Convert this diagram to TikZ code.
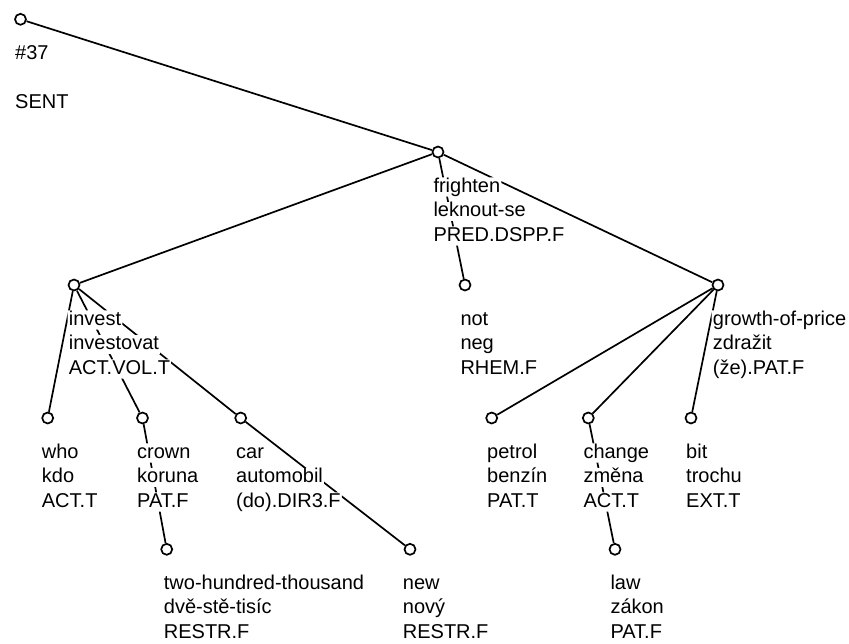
\documentclass[tikz,border=0pt]{standalone}
\usepackage{fontspec}
\setmainfont{Liberation Sans}
\begin{document}
\begin{tikzpicture}[x=1pt,y=-1pt,
  tnode/.style={circle,draw,fill=white,line width=1.7pt,minimum size=11pt,inner sep=0pt},
  link/.style={line width=1.7pt},
  lbl/.style={anchor=base west,inner sep=0pt,inner xsep=1pt,
    text height=14.5pt,text depth=4.5pt,font=\fontsize{20}{24.5}\selectfont}]
\useasboundingbox (0,0) rectangle (849,643);

% tree nodes
\node[tnode] (root)   at (20.5,19.3) {};
\node[tnode] (fri)    at (438,152) {};
\node[tnode] (inv)    at (74,285) {};
\node[tnode] (neg)    at (465,285) {};
\node[tnode] (gro)    at (718,285) {};
\node[tnode] (who)    at (47.7,418) {};
\node[tnode] (crown)  at (142.5,418) {};
\node[tnode] (car)    at (240.7,418) {};
\node[tnode] (petrol) at (491.7,418) {};
\node[tnode] (change) at (588.3,418) {};
\node[tnode] (bit)    at (691,418) {};
\node[tnode] (two)    at (166.7,549.3) {};
\node[tnode] (new)    at (410,549.3) {};
\node[tnode] (law)    at (615,549.3) {};

% three-line labels, one node per text line
\newcommand\treelabel[6]{%
  \node[lbl] (#1-a) at (#2,#3) {#4};
  \node[lbl] (#1-b) at (#2,#3+24.5) {#5};
  \node[lbl] (#1-c) at (#2,#3+49) {#6};}

\node[lbl] (root-a) at (14,59.3) {\#37};
\node[lbl] (root-c) at (14,108.3) {SENT};
\treelabel{fri}{432.3}{192}{frighten}{leknout-se}{PRED.DSPP.F}
\treelabel{inv}{67.7}{325}{invest}{investovat}{ACT.VOL.T}
\treelabel{neg}{459.3}{325}{not}{neg}{RHEM.F}
\treelabel{gro}{711.7}{325}{growth-of-price}{zdražit}{(že).PAT.F}
\treelabel{who}{40.7}{458}{who}{kdo}{ACT.T}
\treelabel{crown}{136}{458}{crown}{koruna}{PAT.F}
\treelabel{car}{235}{458}{car}{automobil}{(do).DIR3.F}
\treelabel{petrol}{486}{458}{petrol}{benzín}{PAT.T}
\treelabel{change}{582.3}{458}{change}{změna}{ACT.T}
\treelabel{bit}{685}{458}{bit}{trochu}{EXT.T}
\treelabel{two}{162.7}{589.3}{two-hundred-thousand}{dvě-stě-tisíc}{RESTR.F}
\treelabel{new}{401.7}{589.3}{new}{nový}{RESTR.F}
\treelabel{law}{609.3}{589.3}{law}{zákon}{PAT.F}

% edges, cut away wherever they pass behind a text line
\begin{scope}[even odd rule]
\clip (0,0) rectangle (849,643)
  \foreach \t in {fri,inv,neg,gro,who,crown,car,petrol,change,bit,two,new,law} {
    (\t-a.south west) rectangle (\t-a.north east)
    (\t-b.south west) rectangle (\t-b.north east)
    (\t-c.south west) rectangle (\t-c.north east)};
\draw[link] (root) -- (fri);
\draw[link] (fri) -- (inv);
\draw[link] (fri) -- (neg);
\draw[link] (fri) -- (gro);
\draw[link] (inv) -- (who);
\draw[link] (inv) -- (crown);
\draw[link] (inv) -- (car);
\draw[link] (crown) -- (two);
\draw[link] (car) -- (new);
\draw[link] (gro) -- (petrol);
\draw[link] (gro) -- (change);
\draw[link] (gro) -- (bit);
\draw[link] (change) -- (law);
\end{scope}
\end{tikzpicture}
\end{document}
